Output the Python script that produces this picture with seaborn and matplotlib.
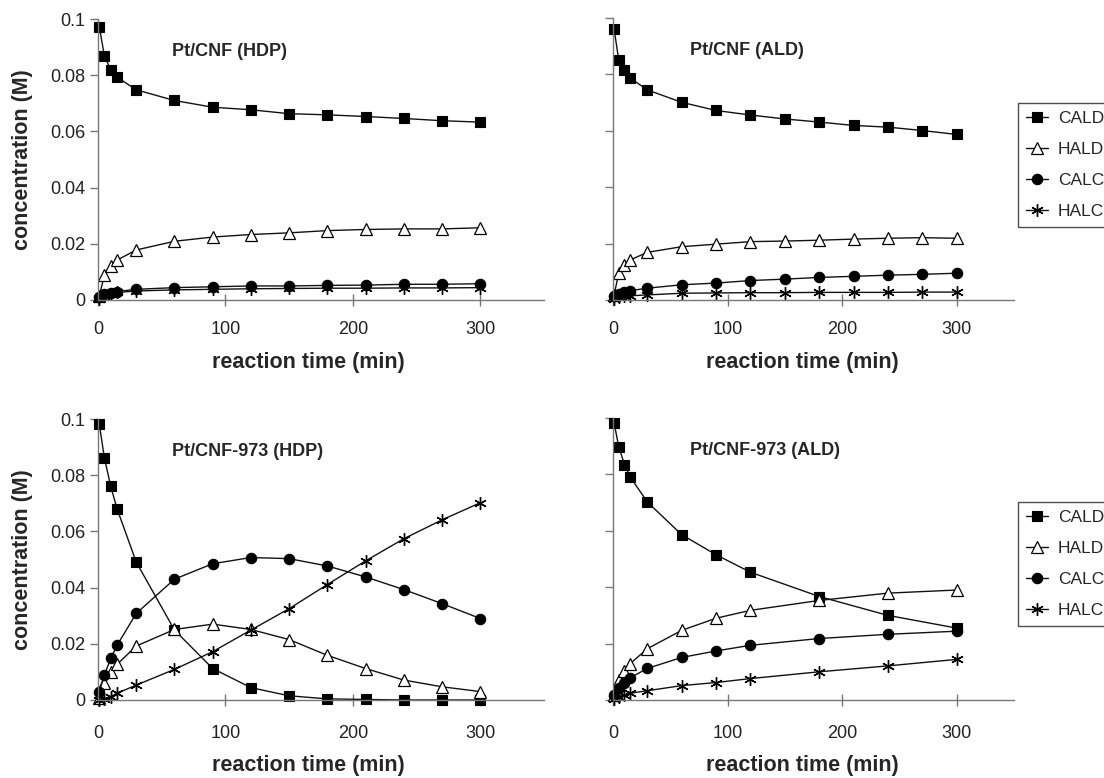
import pandas as pd
import matplotlib
matplotlib.use("Agg")
import matplotlib.pyplot as plt
import seaborn as sns

sns.set_style("ticks")
plt.rcParams["font.family"] = ["Liberation Sans", "DejaVu Sans"]

# ---------------------------------
# DATA
# ---------------------------------

species = ["CALD", "HALD", "CALC", "HALC"]

t_full = [1, 5, 10, 15, 30, 60, 90, 120, 150, 180, 210, 240, 270, 300]
t_short = [1, 5, 10, 15, 30, 60, 90, 120, 180, 240, 300]

x_ticks = [0, 100, 200, 300]
y_ticks = [0, 0.02, 0.04, 0.06, 0.08, 0.1]
y_ticklabels = ["0", "0.02", "0.04", "0.06", "0.08", "0.1"]

# Pt/CNF (HDP)
hdp_cald = [0.0973, 0.0869, 0.0819, 0.0793, 0.0748, 0.0710, 0.0686, 0.0677, 0.0663, 0.0659, 0.0653, 0.0646, 0.0638, 0.0633]
hdp_hald = [0.0014, 0.0088, 0.0121, 0.0142, 0.0178, 0.0209, 0.0224, 0.0233, 0.0239, 0.0247, 0.0251, 0.0253, 0.0253, 0.0257]
hdp_calc = [0.0010, 0.0020, 0.0026, 0.0030, 0.0038, 0.0044, 0.0047, 0.0050, 0.0050, 0.0052, 0.0053, 0.0056, 0.0056, 0.0058]
hdp_halc = [0.0005, 0.0015, 0.0022, 0.0027, 0.0032, 0.0036, 0.0038, 0.0040, 0.0041, 0.0042, 0.0042, 0.0043, 0.0043, 0.0044]

# Pt/CNF (ALD)
ald_cald = [0.0960, 0.0851, 0.0815, 0.0787, 0.0745, 0.0701, 0.0672, 0.0656, 0.0642, 0.0631, 0.0619, 0.0613, 0.0601, 0.0587]
ald_hald = [0.0019, 0.0095, 0.0124, 0.0142, 0.0169, 0.0189, 0.0198, 0.0207, 0.0209, 0.0212, 0.0216, 0.0219, 0.0221, 0.0219]
ald_calc = [0.0015, 0.0022, 0.0028, 0.0033, 0.0042, 0.0054, 0.0060, 0.0069, 0.0074, 0.0080, 0.0084, 0.0088, 0.0091, 0.0095]
ald_halc = [0.0005, 0.0010, 0.0013, 0.0015, 0.0018, 0.0024, 0.0025, 0.0026, 0.0026, 0.0027, 0.0027, 0.0027, 0.0028, 0.0028]

# Pt/CNF-973 (HDP)
hdp973_cald = [0.0982, 0.0862, 0.0760, 0.0680, 0.0491, 0.0249, 0.0112, 0.0044, 0.0015, 0.0004, 0.0002, 0.0000, 0.0000, 0.0000]
hdp973_hald = [0.0006, 0.0059, 0.0100, 0.0127, 0.0192, 0.0251, 0.0270, 0.0251, 0.0215, 0.0159, 0.0112, 0.0071, 0.0047, 0.0030]
hdp973_calc = [0.0030, 0.0089, 0.0148, 0.0195, 0.0308, 0.0430, 0.0485, 0.0507, 0.0503, 0.0477, 0.0438, 0.0393, 0.0343, 0.0290]
hdp973_halc = [0.0000, 0.0004, 0.0012, 0.0024, 0.0053, 0.0109, 0.0172, 0.0249, 0.0325, 0.0411, 0.0495, 0.0574, 0.0641, 0.0702]

# Pt/CNF-973 (ALD)
ald973_cald = [0.0982, 0.0898, 0.0835, 0.0791, 0.0702, 0.0586, 0.0515, 0.0453, 0.0367, 0.0300, 0.0255]
ald973_hald = [0.0018, 0.0070, 0.0102, 0.0129, 0.0182, 0.0247, 0.0290, 0.0318, 0.0353, 0.0379, 0.0390]
ald973_calc = [0.0018, 0.0041, 0.0059, 0.0079, 0.0112, 0.0151, 0.0174, 0.0194, 0.0218, 0.0233, 0.0244]
ald973_halc = [0.0004, 0.0012, 0.0018, 0.0024, 0.0033, 0.0051, 0.0062, 0.0076, 0.0100, 0.0121, 0.0144]

panels = [
    ("Pt/CNF (HDP)", t_full, [hdp_cald, hdp_hald, hdp_calc, hdp_halc]),
    ("Pt/CNF (ALD)", t_full, [ald_cald, ald_hald, ald_calc, ald_halc]),
    ("Pt/CNF-973 (HDP)", t_full, [hdp973_cald, hdp973_hald, hdp973_calc, hdp973_halc]),
    ("Pt/CNF-973 (ALD)", t_short, [ald973_cald, ald973_hald, ald973_calc, ald973_halc]),
]

# marker styles per species
styles = {
    "CALD": dict(marker="s", ms=7, mfc="black", mec="black", mew=0.8),
    "HALD": dict(marker="^", ms=8, mfc="white", mec="black", mew=0.9),
    "CALC": dict(marker="o", ms=7.5, mfc="black", mec="black", mew=0.8),
    "HALC": dict(marker=(6, 2, 0), ms=9, mfc="black", mec="black", mew=1.0),
}

# ---------------------------------
# FIGURE
# ---------------------------------

W, H = 1104, 778
fig = plt.figure(figsize=(W / 100, H / 100), dpi=100)

# axes boxes in pixels: left, top, right, bottom
boxes = [(98, 19, 544, 300), (613, 18, 1014, 300), (98, 419, 544, 700), (613, 418, 1014, 700)]
title_x = [0.166, 0.192, 0.166, 0.192]
xlabel_y = [-0.184, -0.184, -0.195, -0.195]

axes = []
for (l, t, r, b) in boxes:
    axes.append(fig.add_axes([l / W, 1 - b / H, (r - l) / W, (b - t) / H]))

for i, ax in enumerate(axes):
    title, times, series = panels[i]

    for name, vals in zip(species, series):
        df = pd.DataFrame({"time": times, "conc": vals})
        sns.lineplot(data=df, x="time", y="conc", ax=ax, color="#111111",
                     lw=1.0, label=name, legend=False, errorbar=None,
                     clip_on=False, **styles[name])

    ax.set_xlim(0, 350)
    ax.set_ylim(0, 0.1)
    ax.set_xticks(x_ticks)
    ax.set_yticks(y_ticks)

    for side in ["top", "right"]:
        ax.spines[side].set_visible(False)
    for side in ["left", "bottom"]:
        ax.spines[side].set_color("#777777")
        ax.spines[side].set_linewidth(1.0)

    ax.tick_params(axis="y", direction="out", length=6, width=1, color="#777777",
                   labelsize=13, pad=3, labelcolor="#222222")
    ax.tick_params(axis="x", direction="inout", length=8, width=1, color="#777777",
                   labelsize=13, labelcolor="#222222",
                   pad=11 if i < 2 else 14)

    if i % 2 == 0:
        ax.set_yticklabels(y_ticklabels)
        ax.set_ylabel("concentration (M)", fontsize=15.5, fontweight="bold")
        ax.yaxis.set_label_coords(-0.146, 0.5)
    else:
        ax.set_yticklabels([])
        ax.set_ylabel("")

    ax.set_xlabel("reaction time (min)", fontsize=15.5, fontweight="bold")
    ax.xaxis.set_label_coords(165 / 350, xlabel_y[i])

    ax.text(title_x[i], 0.886, title, transform=ax.transAxes, fontsize=13,
            fontweight="bold", va="center", ha="left")

    if i % 2 == 1:
        top_px = 103 if i == 1 else 502
        leg = ax.legend(loc="upper left", bbox_to_anchor=(1018 / W, 1 - top_px / H),
                        bbox_transform=fig.transFigure, fontsize=12.5,
                        frameon=True, fancybox=False, handlelength=1.3,
                        handletextpad=0.55, labelspacing=0.92, borderpad=0.45,
                        borderaxespad=0)
        leg.get_frame().set_edgecolor("#222222")
        leg.get_frame().set_linewidth(1.0)

fig.savefig("out.png", dpi=100)
